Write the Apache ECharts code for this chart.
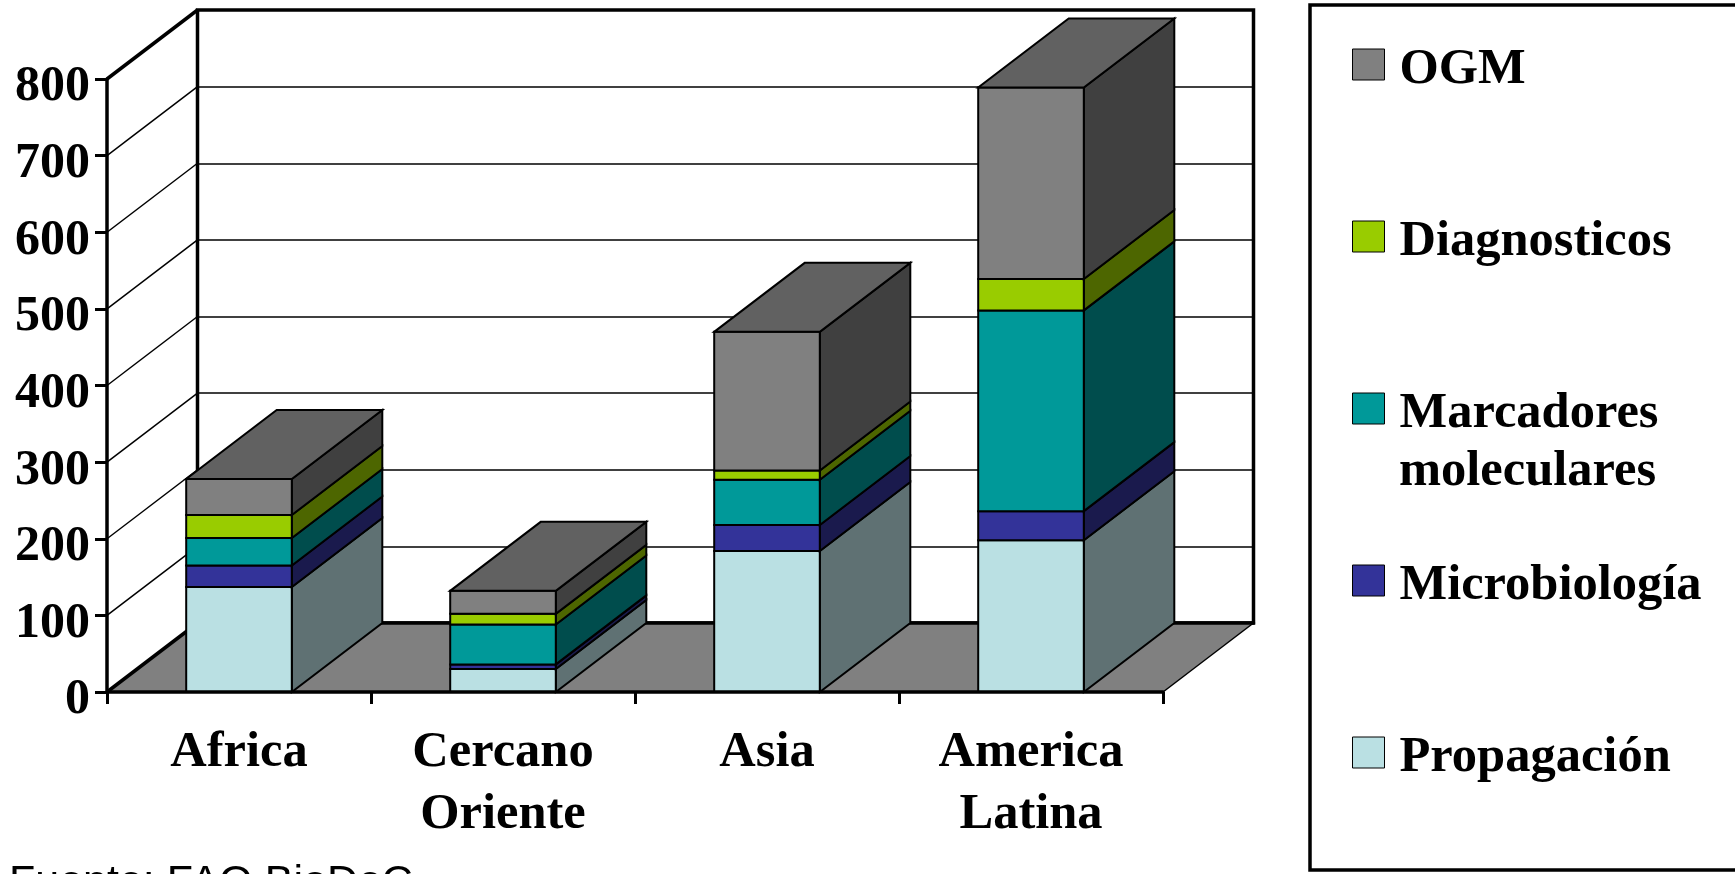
<!DOCTYPE html>
<html>
<head>
<meta charset="utf-8">
<style>html,body{margin:0;padding:0;background:#fff;overflow:hidden}#chart{width:1735px;height:874px}</style>
<script src="https://cdn.jsdelivr.net/npm/echarts@6/dist/echarts.min.js"></script>
</head>
<body>
<div id="chart"></div>
<script>
// Stacked categories, bottom of the stack first
const categories = ['Africa', 'Cercano\nOriente', 'Asia', 'America\nLatina'];
const propagacion = [137, 30, 184, 198];
const microbiologia = [28, 6, 34, 38];
const marcadores = [36, 52, 59, 262];
const diagnosticos = [30, 14, 12, 41];
const ogm = [47, 30, 181, 250];

const seriesNames = ['Propagación', 'Microbiología', 'Marcadores moleculares', 'Diagnosticos', 'OGM'];
const seriesValues = [propagacion, microbiologia, marcadores, diagnosticos, ogm];
const frontColors = ['#BAE0E3', '#333399', '#009999', '#99CC00', '#808080'];
const sideColors = ['#5F7173', '#1A1A4D', '#004D4D', '#4D6600', '#404040'];
const topColor = '#616161';
const floorColor = '#808080';
const yTicks = [0, 100, 200, 300, 400, 500, 600, 700, 800];

// Shift from the front plane of the chart box to its back wall
const DEPTH = [90.5, -69];
const BAR_SHARE = 0.4;
const SERIF = '"Liberation Serif", "Times New Roman", serif';

const back = p => [p[0] + DEPTH[0], p[1] + DEPTH[1]];
const edge = '#000';

// Box-shaped segment: front face, side face and, on the last layer, the lid
function renderSegment(layer) {
  return function (params, api) {
    const i = api.value(0);
    const half = api.size([1, 0])[0] * BAR_SHARE / 2;
    const cx = api.coord([i, 0])[0];
    const y0 = api.coord([i, api.value(1)])[1];
    const y1 = api.coord([i, api.value(2)])[1];
    const fl = [cx - half, y1], fr = [cx + half, y1];
    const bl = [cx - half, y0], br = [cx + half, y0];
    const poly = (pts, fill) => ({
      type: 'polygon',
      shape: { points: pts },
      style: { fill: fill, stroke: edge, lineWidth: 2, lineJoin: 'miter' }
    });
    const children = [
      poly([br, fr, back(fr), back(br)], sideColors[layer]),
      poly([bl, fl, fr, br], frontColors[layer])
    ];
    if (layer === seriesValues.length - 1) {
      children.push(poly([fl, fr, back(fr), back(fl)], topColor));
    }
    return { type: 'group', children: children };
  };
}

const segmentSeries = seriesNames.map((name, layer) => {
  const data = categories.map((c, i) => {
    let base = 0;
    for (let k = 0; k < layer; k++) base += seriesValues[k][i];
    return [i, base, base + seriesValues[layer][i]];
  });
  return {
    name: name,
    type: 'custom',
    xAxisIndex: 0,
    yAxisIndex: 0,
    z: 5 + layer,
    clip: false,
    itemStyle: { color: frontColors[layer] },
    encode: { x: 0, y: [1, 2] },
    renderItem: renderSegment(layer),
    data: data
  };
});

// Outer ends of the category band, taken from the first and last category
function bandEnds(api, value) {
  const step = api.size([1, 0])[0];
  const first = api.coord([0, value]);
  const last = api.coord([categories.length - 1, value]);
  return [[first[0] - step / 2, first[1]], [last[0] + step / 2, last[1]]];
}

// Floor of the box
const floorSeries = {
  type: 'custom',
  xAxisIndex: 0,
  yAxisIndex: 0,
  z: 1,
  clip: false,
  silent: true,
  renderItem: function (params, api) {
    const ends = bandEnds(api, 0);
    const a = ends[0], b = ends[1];
    return {
      type: 'group',
      children: [
        { type: 'polygon', shape: { points: [a, b, back(b), back(a)] }, style: { fill: floorColor } },
        { type: 'line', shape: { x1: b[0], y1: b[1], x2: back(b)[0], y2: back(b)[1] }, style: { stroke: edge, lineWidth: 1.5 } }
      ]
    };
  },
  data: [[0]]
};

// Receding gridlines on the left wall
const sideGridSeries = {
  type: 'custom',
  xAxisIndex: 0,
  yAxisIndex: 0,
  z: 2,
  clip: false,
  silent: true,
  renderItem: function (params, api) {
    const v = api.value(1);
    const p = bandEnds(api, v)[0];
    const q = back(p);
    const heavy = v === yTicks[0] || v === yTicks[yTicks.length - 1];
    return {
      type: 'line',
      shape: { x1: p[0], y1: p[1], x2: q[0], y2: q[1] },
      style: { stroke: edge, lineWidth: heavy ? 3.5 : 1.5 }
    };
  },
  encode: { x: 0, y: 1 },
  data: yTicks.map(v => [0, v])
};

const option = {
  animation: false,
  backgroundColor: '#fff',
  title: {
    text: 'Fuente: FAO BioDeC',
    left: 9,
    top: 862,
    padding: 0,
    textStyle: { fontFamily: '"Liberation Sans", Arial, sans-serif', fontSize: 43, fontWeight: 'normal', color: '#000' }
  },
  grid: [
    { left: 107, right: 572, top: 79, bottom: 182, show: false },
    { left: 197.5, right: 481.5, top: 10, bottom: 251, show: true, borderColor: '#000', borderWidth: 3.5, backgroundColor: 'transparent' }
  ],
  xAxis: [
    {
      type: 'category',
      gridIndex: 0,
      data: categories,
      z: 12,
      axisLine: { lineStyle: { color: '#000', width: 3.5 } },
      axisTick: { show: true, length: 12, lineStyle: { color: '#000', width: 3 } },
      axisLabel: {
        interval: 0,
        margin: 30,
        fontFamily: SERIF,
        fontSize: 50.5,
        fontWeight: 'bold',
        color: '#000',
        lineHeight: 62
      }
    },
    {
      type: 'category',
      gridIndex: 1,
      data: categories,
      z: 3,
      axisLine: { lineStyle: { color: '#000', width: 3.5 } },
      axisTick: { show: false },
      axisLabel: { show: false }
    }
  ],
  yAxis: [
    {
      type: 'value',
      gridIndex: 0,
      min: 0,
      max: 800,
      interval: 100,
      z: 12,
      splitLine: { show: false },
      axisLine: { show: true, lineStyle: { color: '#000', width: 3.5 } },
      axisTick: { show: true, length: 12, lineStyle: { color: '#000', width: 3 } },
      axisLabel: {
        margin: 17,
        formatter: '{v|{value}}',
        rich: {
          v: {
            fontFamily: SERIF,
            fontSize: 50,
            fontWeight: 'bold',
            color: '#000',
            lineHeight: 50,
            padding: [17, 0, 0, 0]
          }
        }
      }
    },
    {
      type: 'value',
      gridIndex: 1,
      min: 0,
      max: 800,
      interval: 100,
      axisLine: { show: false },
      axisTick: { show: false },
      axisLabel: { show: false },
      splitLine: { show: true, lineStyle: { color: '#000', width: 1.5 } }
    }
  ],
  legend: {
    orient: 'vertical',
    left: 1352,
    top: 34,
    padding: 0,
    itemWidth: 32,
    itemHeight: 31,
    itemGap: 111,
    icon: 'rect',
    selectedMode: false,
    data: seriesNames.slice().reverse(),
    itemStyle: { borderColor: '#000', borderWidth: 1 },
    formatter: name => '{t|' + name.split(' ')[0] + '}',
    textStyle: {
      rich: {
        t: {
          fontFamily: SERIF,
          fontSize: 50.5,
          fontWeight: 'bold',
          color: '#000',
          lineHeight: 50,
          padding: [10, 0, 0, 10]
        }
      }
    }
  },
  graphic: [
    {
      type: 'rect',
      shape: { x: 1310, y: 5, width: 600, height: 865 },
      style: { fill: 'none', stroke: '#000', lineWidth: 3.5 }
    },
    {
      type: 'text',
      x: 1399,
      y: 472,
      style: {
        text: seriesNames[2].split(' ')[1],
        fontFamily: SERIF,
        fontSize: 50.5,
        fontWeight: 'bold',
        fill: '#000',
        verticalAlign: 'middle'
      }
    }
  ],
  series: [floorSeries, sideGridSeries].concat(segmentSeries)
};

const chart = echarts.init(document.getElementById('chart'), null, { renderer: 'canvas' });
chart.setOption(option);
</script>
</body>
</html>
